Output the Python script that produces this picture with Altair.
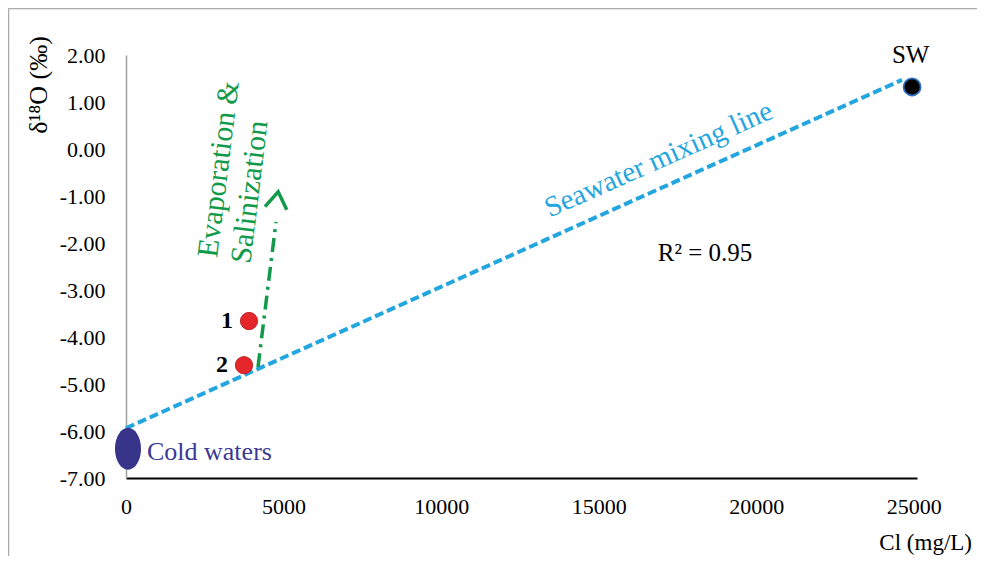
import altair as alt
import pandas as pd

# ---- data ----
sample_x = [3903, 3744]
sample_y = [-3.66, -4.60]
sample_lbl = ["1", "2"]

sw_x = [24945]
sw_y = [1.32]

mix_x = [0, 24624]
mix_y = [-5.94, 1.47]

cold_x = [63]
cold_y = [-6.38]

evap_x = [4189, 4760]
evap_y = [-4.64, -1.553]
head_x = [4792]
head_y = [-1.085]

x_ticks = [0, 5000, 10000, 15000, 20000, 25000]
y_ticks = [-7, -6, -5, -4, -3, -2, -1, 0, 1, 2]

FONT = "Liberation Serif"
W, H = 791, 423
PL, PT = 118, 47
TW, TH = 969, 548

xs = alt.Scale(domain=[0, 25100], nice=False, zero=False)
ys = alt.Scale(domain=[-7, 2], nice=False, zero=False)

X = lambda: alt.X("x:Q", scale=xs, axis=alt.Axis(
    values=x_ticks, format="d", title=None, grid=False, ticks=False,
    labelFont=FONT, labelFontSize=22, labelColor="#000", labelPadding=18,
    domainColor="#000", domainWidth=2, labelFlush=False))
Y = lambda: alt.Y("y:Q", scale=ys, axis=alt.Axis(
    values=y_ticks, title=None, grid=False, ticks=False,
    labelExpr="replace(format(datum.value, '.2f'), '\u2212', '-')",
    labelFont=FONT, labelFontSize=22, labelColor="#000", labelPadding=21,
    domainColor="#a0a0a0", domainWidth=1.5, labelFlush=False))

def df(**kw):
    return pd.DataFrame(kw)

border_left = alt.Chart(df(a=[0])).mark_rule(
    stroke="#aaaaaa", strokeWidth=1.5
).encode(x=alt.value(-117.5), y=alt.value(-46.5), y2=alt.value(TH))
border_top = alt.Chart(df(a=[0])).mark_rule(
    stroke="#aaaaaa", strokeWidth=1.5
).encode(x=alt.value(-117.5), x2=alt.value(TW), y=alt.value(-46.5))

mix = alt.Chart(df(x=mix_x, y=mix_y)).mark_line(
    color="#23a6e0", strokeWidth=4, strokeDash=[9, 4]
).encode(x=X(), y=Y())

evap = alt.Chart(df(x=evap_x, y=evap_y)).mark_line(
    color="#109a4a", strokeWidth=3.5, strokeDash=[14, 6, 3, 6]
).encode(x=X(), y=Y())

head = alt.Chart(df(x=head_x, y=head_y)).mark_point(
    shape="M-1,0.75 L0,-0.75 L1,0.75", size=484, filled=False,
    stroke="#109a4a", strokeWidth=3.5, angle=8, opacity=1
).encode(x=X(), y=Y())

cold = alt.Chart(df(x=cold_x, y=cold_y)).mark_point(
    shape="M-0.62,0 A0.62,1 0 1,0 0.62,0 A0.62,1 0 1,0 -0.62,0 Z",
    size=1764, filled=True, fill="#37348a", opacity=1, strokeWidth=0
).encode(x=X(), y=Y())

cold_txt = alt.Chart(df(x=[666], y=[-6.45], t=["Cold waters"])).mark_text(
    font=FONT, fontSize=26, color="#3c3994", align="left", baseline="middle"
).encode(x=X(), y=Y(), text="t:N")

samples = alt.Chart(df(x=sample_x, y=sample_y, t=sample_lbl)).mark_circle(
    size=300, color="#e5262b", opacity=1, stroke="#b01818", strokeWidth=0.8
).encode(x=X(), y=Y())

sample_txt = alt.Chart(df(x=sample_x, y=sample_y, t=sample_lbl)).mark_text(
    font=FONT, fontSize=24, fontWeight="bold", color="#000", align="right",
    baseline="middle", dx=-16
).encode(x=X(), y=Y(), text="t:N")

sw = alt.Chart(df(x=sw_x, y=sw_y)).mark_circle(
    size=290, color="#000", opacity=1, stroke="#2f6fc0", strokeWidth=1.8
).encode(x=X(), y=Y())

sw_txt = alt.Chart(df(x=[24900], y=[2.0], t=["SW"])).mark_text(
    font=FONT, fontSize=25, color="#000", align="center", baseline="middle"
).encode(x=X(), y=Y(), text="t:N")

r2_txt = alt.Chart(df(x=[18373], y=[-2.21], t=["R\u00b2 = 0.95"])).mark_text(
    font=FONT, fontSize=25, color="#000", align="center", baseline="middle"
).encode(x=X(), y=Y(), text="t:N")

mix_txt = alt.Chart(df(x=[16900], y=[-0.22], t=["Seawater mixing line"])).mark_text(
    font=FONT, fontSize=29, color="#23a6e0", align="center", baseline="middle",
    angle=336
).encode(x=X(), y=Y(), text="t:N")

evap_txt = alt.Chart(df(x=[2951, 3935], y=[-0.43, -0.915],
                        t=["Evaporation &", "Salinization"])).mark_text(
    font=FONT, fontSize=30, color="#109a4a", align="center", baseline="middle",
    angle=277
).encode(x=X(), y=Y(), text="t:N")

ytitle = alt.Chart(df(t=["\u03b4\u00b9\u2078O (\u2030)"])).mark_text(
    font=FONT, fontSize=26, color="#000", align="center", baseline="middle", angle=270
).encode(x=alt.value(-87), y=alt.value(30), text="t:N")

xtitle = alt.Chart(df(t=["Cl (mg/L)"])).mark_text(
    font=FONT, fontSize=23, color="#000", align="right", baseline="middle"
).encode(x=alt.value(846), y=alt.value(488), text="t:N")

chart = alt.layer(
    border_left, border_top, mix, evap, head, cold, cold_txt, samples, sample_txt,
    sw, sw_txt, r2_txt, mix_txt, evap_txt, ytitle, xtitle
).properties(
    width=W, height=H,
    autosize=alt.AutoSizeParams(type="none"),
    padding={"left": PL, "top": PT, "right": TW - PL - W, "bottom": TH - PT - H},
    background="white",
).configure_view(stroke=None)

chart.save("out.html", embed_options={"renderer": "svg", "actions": False})
